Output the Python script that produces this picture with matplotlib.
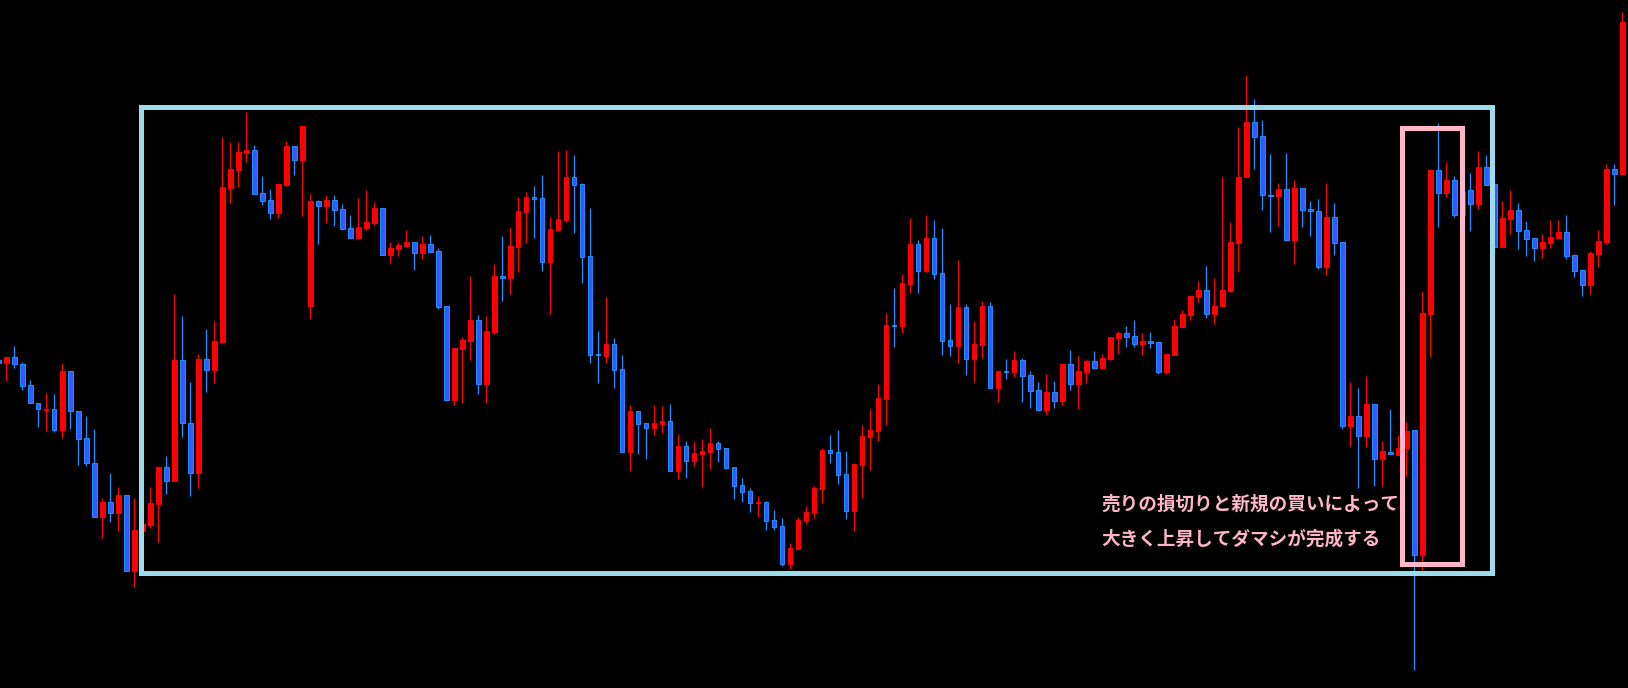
import numpy as np
import matplotlib
matplotlib.use("Agg")
import matplotlib.pyplot as plt
from matplotlib.patches import Rectangle

plt.rcParams['font.family'] = ['Noto Sans CJK JP', 'DejaVu Sans']

# OHLC prices (chart units), one entry per candle, oldest first
opens = [328, 324.7, 330.7, 323.7, 302.7, 284.7, 278.3, 278.7, 258.3, 316.7,
         276.7, 249.7, 224.7, 171.3, 185.7, 175.3, 192.7, 117.3, 157.3, 163,
         184.3, 221, 207, 328, 264.7, 215.3, 329, 318.3, 346.3, 500.3,
         518.3, 535.3, 538, 495, 488, 475, 503, 542, 528.3, 382.3,
         486.7, 482.3, 488, 479, 460, 450.3, 460.3, 465, 480, 433.3,
         439.3, 442, 446, 435.3, 444, 437, 382, 288.3, 339.3, 347.3,
         368, 304.3, 356.3, 412, 410.3, 441.3, 476.3, 490.7, 490, 426.3,
         458.3, 468.3, 511, 504, 432, 334, 332.3, 344, 319, 236.3,
         277, 265, 260.3, 264.3, 267, 217.3, 242, 227.3, 234.3, 236.3,
         245, 240, 221, 203, 197, 185, 186, 168, 162, 124.3,
         139.3, 167.3, 175.3, 199.3, 238, 236, 214, 177.3, 223.3, 251.3,
         257.3, 289.3, 363, 362.3, 404.3, 444, 417, 450, 415, 348,
         342.3, 381, 329.3, 343.3, 382, 300.3, 317.3, 316.3, 328, 313,
         298, 278.3, 296, 287.3, 324, 304.3, 316.3, 327, 320.3, 329.3,
         350.3, 355, 352, 344.3, 347, 346, 316.3, 333.3, 361.3, 373.3,
         391.3, 398, 373.8, 381.8, 397.5, 444.9, 511.1, 565.8, 551.7, 493.5,
         491.9, 499.5, 447.7, 500.3, 478.6, 477.4, 420.8, 471.4, 445.7, 262.5,
         272.2, 252.5, 284.2, 229.2, 236.4, 233.2, 240.5, 257.8, 133.5, 374.2,
         518.1, 495.5, 508.1, 473.3, 497.8, 484.4, 521.1, 503.9, 441.5, 469.5,
         477.9, 458, 450, 440.4, 445, 450.3, 456.1, 433.1, 417.8, 403.3,
         434.3, 446.1, 518.8, 514.3]
highs = [328, 330.7, 342, 325.7, 308, 284.7, 294.7, 294, 324.7, 316.7,
         276.7, 272, 259, 190, 215, 201, 192.7, 190, 168, 201,
         222, 232, 394, 372, 306, 334, 359, 367, 551, 546,
         546, 576, 543, 512, 499, 504, 547, 542, 562, 494,
         488, 493, 493, 484, 473, 490, 498, 486, 480, 446,
         446, 458, 446, 452, 453, 440, 382, 340, 351, 412,
         373, 372, 424, 452, 461, 491, 496, 502, 513, 471,
         537, 538, 533, 505, 480, 357, 391, 350, 333, 283,
         277, 265, 283, 282, 284, 254, 247, 246, 249, 260,
         247, 240, 221, 210.3, 200.3, 192.3, 187, 178.3, 170.3, 145.3,
         171.3, 182.3, 202.3, 240.3, 253.3, 258, 237.3, 224.3, 263, 279,
         304, 375, 400, 414, 470, 448, 473, 468, 460, 384,
         428, 384, 367, 387, 386, 318, 329, 337, 330, 317,
         306, 314, 307, 324, 338, 333, 329, 337, 334, 351,
         357, 362, 368, 355, 356, 346, 334, 369, 378, 393,
         407, 422, 410.3, 510.7, 465.8, 560.9, 613.1, 589, 567.8, 533.6,
         504.7, 534.8, 507.9, 500.3, 487.4, 489.4, 505.5, 485.4, 445.7, 306.3,
         300.3, 312.3, 284.2, 246.9, 279, 252.9, 266.2, 257.8, 397.1, 519.2,
         565.2, 526.1, 512, 500, 515, 536.8, 533, 510.8, 487.1, 497.8,
         484.8, 466.8, 450, 453.8, 468, 468, 472.9, 433.9, 418.6, 437,
         458, 523.8, 523.8, 676.1]
lows = [324.7, 307.3, 320.3, 298.3, 284.7, 261.3, 257, 256.3, 250.3, 259.3,
        223.3, 222.3, 171.3, 150.3, 166.3, 157.3, 117.3, 101.3, 154.7, 160.3,
        146.3, 194.3, 207, 251.3, 192.3, 200.3, 296.3, 305, 346.3, 485.3,
        501, 526.3, 494.3, 483.3, 469.3, 470.3, 502.3, 513, 472.3, 369,
        444.3, 465, 462.3, 458.3, 450.3, 450.3, 458.3, 463, 433.3, 425.3,
        432.3, 441.3, 418.3, 429.3, 436.3, 379.3, 287.3, 283.3, 285.3, 328.3,
        294.3, 285.3, 354.3, 387.3, 394.3, 416.3, 445.3, 450.3, 417.3, 374.3,
        458.3, 466.3, 455.3, 405.3, 325.3, 305.3, 325.3, 300.3, 236.3, 217.3,
        234.3, 229.3, 253.3, 255.3, 217.3, 209.3, 210.3, 222.3, 201.3, 219.3,
        226.3, 219.3, 189.3, 186.3, 176.3, 171.3, 158.3, 158.3, 122.3, 119.3,
        139.3, 164.3, 170.3, 185.3, 225.3, 204.3, 169.3, 157.3, 190.3, 218.3,
        247.3, 263.3, 341.3, 355.3, 395.3, 395.3, 416, 409.3, 333.3, 332.3,
        325.3, 313.3, 306.3, 330.3, 300.3, 286.3, 309.3, 311.3, 286.3, 280.3,
        277.3, 273.3, 280.3, 283.3, 298.3, 279.3, 305.3, 319.3, 320.3, 328.3,
        334.3, 341.3, 341.3, 333.3, 340.3, 314.3, 314.3, 333.3, 361.3, 368.3,
        386.3, 370.3, 364.5, 381.8, 395.9, 416, 511.1, 519.2, 477.8, 456.1,
        462.1, 446.9, 424, 460.9, 452.1, 418.8, 412.7, 432.8, 259.3, 242.5,
        200.3, 241.3, 202.3, 202.3, 233.6, 233.2, 212.3, 18, 117.8, 330.9,
        461.4, 490.9, 471.4, 470, 457.2, 479.4, 503.5, 435.4, 441.5, 454.2,
        439.2, 432.4, 427.4, 430.4, 440.4, 450.3, 429.3, 411.3, 392.2, 394.5,
        421.3, 444.2, 483.3, 514.3]
closes = [324.7, 330.7, 323.7, 302.3, 284.7, 278.7, 279, 258.3, 317, 276.7,
          249.3, 224.7, 171.3, 186, 175.3, 192.7, 117.3, 158, 164, 185,
          221, 207.3, 328, 264.7, 215.3, 329, 318.3, 347, 501, 519,
          536, 538, 494.3, 487.3, 475.3, 504, 542, 528.3, 562, 487,
          482.3, 488, 478.3, 459.3, 450.3, 461, 466, 480, 433.3, 440,
          443, 446, 435.3, 444, 436.3, 381.3, 288.3, 340, 348, 368,
          304.3, 357, 412, 410.3, 442, 477, 491, 489.3, 426.3, 459,
          469, 511, 503.3, 431.3, 333.3, 332.7, 344, 318.3, 236.3, 277,
          264.3, 260.3, 265, 267, 217.3, 242, 227.3, 235, 237, 245,
          239.3, 220.3, 202.3, 196.3, 185.3, 186.3, 167.3, 161.3, 124.3, 140.3,
          168.3, 176, 200.3, 238.3, 235.3, 213.3, 177.3, 224.3, 252.3, 258,
          290.3, 363, 362, 405, 444, 417.3, 450, 414.3, 347.3, 342.3,
          381, 329.3, 344, 382, 300.3, 317, 316.3, 328, 312.3, 297.3,
          278.3, 296, 287.3, 324, 304.3, 317, 327, 320.3, 330, 351,
          355, 351.3, 344.3, 347, 345.3, 316.3, 334, 362.3, 374, 392,
          398, 374.3, 382.2, 398.3, 445.7, 511.5, 565.8, 551.3, 493.1, 491.9,
          499.5, 447.7, 500.3, 477.8, 477, 420.8, 471.4, 444.9, 262.5, 272.2,
          252.5, 284.2, 229.2, 236.8, 233.6, 240.5, 256.9, 133.5, 375, 518.5,
          495.5, 508.1, 473.3, 497, 484.4, 521.1, 503.5, 441.5, 469.9, 477.9,
          457.2, 449.2, 440.4, 446.1, 451.1, 456.1, 432.4, 417.4, 403.3, 435,
          446.9, 518.8, 514.3, 666.2]

note_lines = ["売りの損切りと新規の買いによって", "大きく上昇してダマシが完成する"]

UP = "#ff0000"
DOWN_FILL = "#2f5bff"
DOWN_EDGE = "#1e90ff"
FRAME = "#9ddcec"
PINK = "#ffb6c8"

o = np.array(opens)
h = np.array(highs)
l = np.array(lows)
c = np.array(closes)
x = np.arange(len(o))
up = c >= o

fig = plt.figure(figsize=(16.28, 6.88), dpi=100, facecolor="black")
ax = fig.add_axes([0, 0, 1, 1], facecolor="black")

# wicks
ax.vlines(x[up], l[up], h[up], color=UP, linewidth=0.9, zorder=1)
ax.vlines(x[~up], l[~up], h[~up], color=DOWN_EDGE, linewidth=0.9, zorder=1)

# bodies
bottom = np.minimum(o, c)
height = np.maximum(np.abs(c - o), 0.8)
ax.bar(x[up], height[up], bottom=bottom[up], width=0.55,
       color=UP, edgecolor=UP, linewidth=0.7, zorder=2)
ax.bar(x[~up], height[~up], bottom=bottom[~up], width=0.55,
       color=DOWN_FILL, edgecolor=DOWN_EDGE, linewidth=0.7, zorder=2)

# range box and breakout box
ax.add_patch(Rectangle((17.8, 115.5), 186.65 - 17.8, 581.5 - 115.5,
                       fill=False, edgecolor=FRAME, linewidth=3.6, zorder=5))
ax.add_patch(Rectangle((175.5, 124.5), 183.0 - 175.5, 560.5 - 124.5,
                       fill=False, edgecolor=PINK, linewidth=3.6, zorder=5))

ax.text(137.9, 183.4, note_lines[0], color=PINK, fontsize=13.4,
        fontweight="bold", ha="left", va="center", zorder=6)
ax.text(137.9, 149.1, note_lines[1], color=PINK, fontsize=13.4,
        fontweight="bold", ha="left", va="center", zorder=6)

ax.set_xlim(0.2125, 203.7125)
ax.set_ylim(0, 688)
ax.axis("off")

fig.savefig("out.png", dpi=100, facecolor="black")
